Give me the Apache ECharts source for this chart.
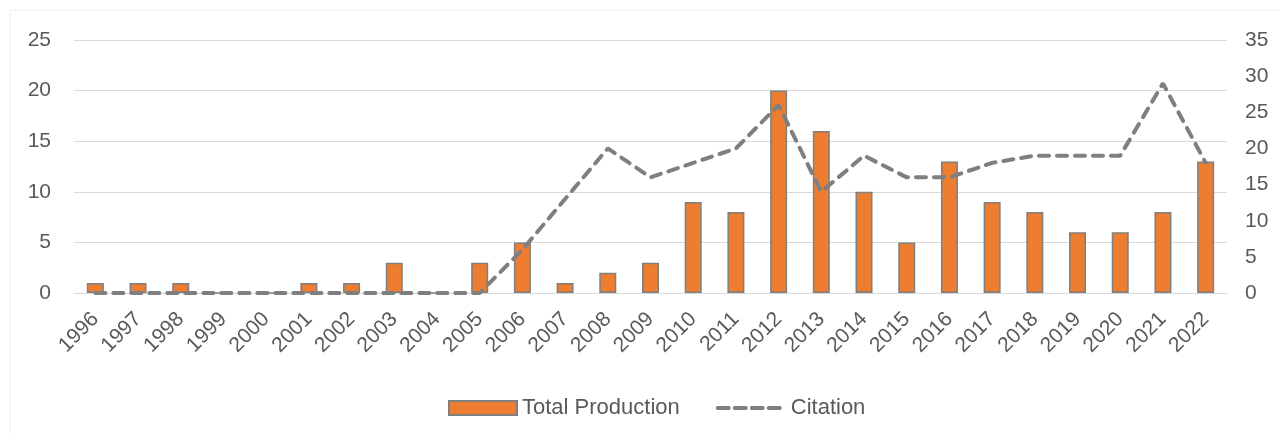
<!DOCTYPE html>
<html style="height: 100%">
<head>
    <meta charset="utf-8">
</head>
<body style="height: 100%; margin: 0; background: #ffffff">
    <div id="container" style="width: 1280px; height: 434px"></div>
    <script type="text/javascript" src="https://cdn.jsdelivr.net/npm/echarts@6/dist/echarts.min.js"></script>
    <script type="text/javascript">
var years = ['1996', '1997', '1998', '1999', '2000', '2001', '2002', '2003', '2004', '2005',
    '2006', '2007', '2008', '2009', '2010', '2011', '2012', '2013', '2014', '2015',
    '2016', '2017', '2018', '2019', '2020', '2021', '2022'];
var totalProduction = [1, 1, 1, 0, 0, 1, 1, 3, 0, 3, 5, 1, 2, 3, 9, 8, 20, 16, 10, 5, 13, 9, 8, 6, 6, 8, 13];
var citation = [0, 0, 0, 0, 0, 0, 0, 0, 0, 0, 6, 13, 20, 16, 18, 20, 26, 14, 19, 16, 16, 18, 19, 19, 19, 29, 18];

var dom = document.getElementById('container');
var myChart = echarts.init(dom);

var textColor = '#595959';
var fontFamily = 'Liberation Sans';

var option = {
    animation: false,
    backgroundColor: '#ffffff',
    graphic: [{
        type: 'rect',
        shape: { x: 10, y: 10, width: 1400, height: 600 },
        style: { fill: 'none', stroke: '#f0f0f0', lineWidth: 1 },
        silent: true
    }],
    grid: {
        left: 74,
        right: 53,
        top: 40,
        bottom: 141
    },
    legend: {
        data: [
            { name: 'Total Production', icon: 'rect' },
            {
                name: 'Citation',
                itemStyle: { opacity: 0 },
                lineStyle: { width: 4, type: [11, 6], cap: 'round', color: '#7f7f7f' }
            }
        ],
        left: 443,
        top: 392,
        itemWidth: 68,
        itemHeight: 14,
        itemGap: 36,
        textStyle: { color: textColor, fontSize: 22, fontFamily: fontFamily }
    },
    xAxis: {
        type: 'category',
        data: years,
        axisLine: { lineStyle: { color: '#d9d9d9', width: 1 } },
        axisTick: { show: false },
        axisLabel: {
            rotate: 45,
            margin: 23,
            interval: 0,
            color: textColor,
            fontSize: 21,
            fontFamily: fontFamily
        }
    },
    yAxis: [{
        type: 'value',
        min: 0,
        max: 25,
        interval: 5,
        axisLine: { show: false },
        axisTick: { show: false },
        splitLine: { lineStyle: { color: '#d9d9d9', width: 1 } },
        axisLabel: { margin: 23, color: textColor, fontSize: 21, fontFamily: fontFamily }
    }, {
        type: 'value',
        min: 0,
        max: 35,
        interval: 5,
        axisLine: { show: false },
        axisTick: { show: false },
        splitLine: { show: false },
        axisLabel: { margin: 18, color: textColor, fontSize: 21, fontFamily: fontFamily }
    }],
    series: [{
        name: 'Total Production',
        type: 'bar',
        yAxisIndex: 0,
        data: totalProduction,
        barWidth: 17,
        itemStyle: {
            color: '#ed7d31',
            borderColor: '#7f7f7f',
            borderWidth: 1.5
        }
    }, {
        name: 'Citation',
        type: 'line',
        yAxisIndex: 1,
        data: citation,
        symbol: 'none',
        lineStyle: {
            color: '#7f7f7f',
            width: 4,
            type: [10, 8],
            cap: 'round'
        },
        itemStyle: { color: '#7f7f7f' },
        z: 3
    }]
};

myChart.setOption(option);
    </script>
</body>
</html>
